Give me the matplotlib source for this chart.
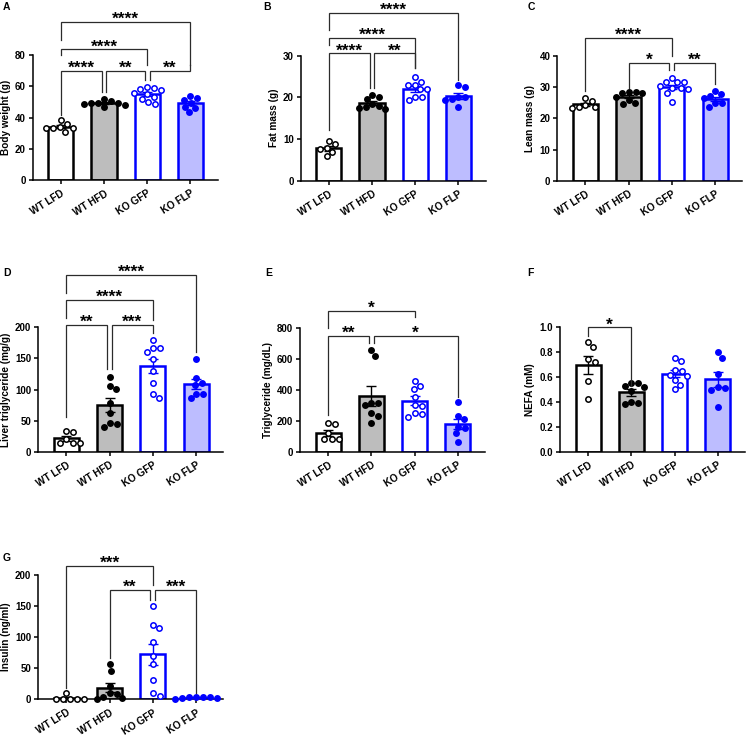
import numpy as np
import matplotlib
matplotlib.use('Agg')
import matplotlib.pyplot as plt

plt.rcParams['font.family'] = ['Liberation Sans', 'DejaVu Sans']
plt.rcParams['font.weight'] = 'bold'

# ---------------- data ----------------
groups = ['WT LFD', 'WT HFD', 'KO GFP', 'KO FLP']

body_weight = [
    [34, 36, 38.5, 30.5, 33, 33.5, 33.5],
    [48.5, 49.5, 50.5, 52, 46.5, 48, 49, 49.5],
    [59, 57.5, 58.5, 56, 59.5, 55, 53, 52, 50, 48.5],
    [54, 51.5, 52.5, 49.5, 47, 43.5, 46],
]
fat_mass = [
    [8.7, 9.5, 7.9, 7.6, 5.9, 6.9],
    [20, 19.5, 20.6, 17.2, 18.5, 17.8, 18, 17.5],
    [24.8, 23.8, 23, 23, 19.4, 20, 20.2, 21.9, 22],
    [23, 22.4, 20.2, 19.5, 17.6, 19.4, 20],
]
lean_mass = [
    [25.7, 26.6, 23.2, 23.7, 23.7, 24.3],
    [28.2, 28.6, 28.6, 28, 25.9, 27, 24.5, 25],
    [33, 31.6, 31.6, 31.6, 29.6, 29.3, 29.6, 25.3, 28.0, 30.5],
    [27.3, 28.9, 27.8, 26.4, 24.8, 23.7, 25],
]
liver_tg = [
    [32, 33, 20, 14.5, 14.5, 14.5],
    [120.5, 101, 105.5, 78, 62, 40, 46, 44.5],
    [179.6, 167.3, 166.2, 160.9, 148.5, 111, 87, 92.2, 130],
    [149, 118, 111, 107, 93, 86, 93],
]
serum_tg = [
    [176, 187, 118, 80, 82, 82],
    [656, 617, 316, 301, 316, 247, 232, 187],
    [456, 402, 426, 355, 295, 301, 226, 247, 241],
    [318, 211, 232, 150, 161, 118, 65],
]
nefa = [
    [0.84, 0.88, 0.72, 0.745, 0.565, 0.42],
    [0.555, 0.555, 0.528, 0.52, 0.49, 0.385, 0.40, 0.39],
    [0.75, 0.73, 0.66, 0.65, 0.61, 0.575, 0.54, 0.505, 0.62],
    [0.80, 0.755, 0.625, 0.51, 0.52, 0.495, 0.36],
]
insulin = [
    [10.7, 0.5, 0.8, 0.5, 0.3, 0.5],
    [57, 46, 22, 9.5, 8.5, 1, 4, 2],
    [150, 114, 119.5, 92, 70, 57, 31, 6, 10],
    [3.5, 3.5, 3, 3, 2.5, 2, 1],
]

# significance brackets: (group i, group j, bracket level, stars, leg end i, leg end j)
brackets_a = [(0, 1, 69.8, '****', 41.6, 56.5), (1, 2, 69.8, '**', 56.5, 64),
              (2, 3, 69.8, '**', 64, 73.6), (0, 2, 83.6, '****', 80, 73.6),
              (0, 3, 101.3, '****', 89.6, 73.6)]
brackets_b = [(0, 1, 30.6, '****', 12.2, 22.2), (1, 2, 30.6, '**', 22.2, 27),
              (0, 2, 34.3, '****', 32.6, 27), (0, 3, 40.3, '****', 36.2, 24.2)]
brackets_c = [(1, 2, 37.9, '*', 29.6, 35.5), (2, 3, 37.9, '**', 35.5, 30.9),
              (0, 2, 45.9, '****', 28.9, 40)]
brackets_d = [(0, 1, 203.8, '**', 56.3, 132.4), (1, 2, 203.8, '***', 132.4, 190.3),
              (0, 2, 244, '****', 214.5, 211.8), (0, 3, 284, '****', 254.7, 160.9)]
brackets_e = [(0, 1, 746, '**', 236.6, 699), (1, 3, 746, '*', 699, 355),
              (0, 2, 909.7, '*', 795.7, 871)]
brackets_f = [(0, 1, 1.0, '*', 0.93, 0.527)]
brackets_g = [(1, 2, 175.9, '**', 66, 159.8), (2, 3, 175.9, '***', 159.8, 9.7),
              (0, 2, 214.5, '***', 17.7, 184)]

# ---------------- styles ----------------
W, H = 748, 736
BLUE = '#0000FF'
bar_face = ['white', '#BDBDBD', 'white', '#BDBDFF']
bar_edge = ['black', 'black', BLUE, BLUE]
pt_face = ['white', 'black', 'white', BLUE]
pt_edge = ['black', 'black', BLUE, BLUE]

XL = (-0.65, 3.63)
AX_W = 185.0

panels = [
    # letter, data, brackets, ylabel, ymax, yticks, fmt, (left, y0, ytop) px, letter pos px
    ('A', body_weight, brackets_a, 'Body weight (g)', 80, [0, 20, 40, 60, 80], '%d', (32.7, 180, 55), (3, 10)),
    ('B', fat_mass, brackets_b, 'Fat mass (g)', 30, [0, 10, 20, 30], '%d', (300.7, 180.7, 55.7), (263, 10)),
    ('C', lean_mass, brackets_c, 'Lean mass (g)', 40, [0, 10, 20, 30, 40], '%d', (557.3, 180.7, 56), (528, 10)),
    ('D', liver_tg, brackets_d, 'Liver triglyceride (mg/g)', 200, [0, 50, 100, 150, 200], '%d', (38.3, 451.7, 327.3), (3, 276)),
    ('E', serum_tg, brackets_e, 'Triglyceride (mg/dL)', 800, [0, 200, 400, 600, 800], '%d', (300, 451.7, 327.7), (265, 276)),
    ('F', nefa, brackets_f, 'NEFA (mM)', 1.0, [0, 0.2, 0.4, 0.6, 0.8, 1.0], '%.1f', (560, 451.7, 327.3), (527, 276)),
    ('G', insulin, brackets_g, 'Insulin (ng/ml)', 200, [0, 50, 100, 150, 200], '%d', (38.3, 699.3, 575), (3, 561)),
]


def swarm_offsets(vals, ypp, xpp, d=7.0):
    ys = np.asarray(vals, float) * ypp
    order = np.argsort(-ys, kind='stable')
    cands = [0.0]
    for k in range(1, 200):
        cands += [k * 0.25, -k * 0.25]
    px, py = [], []
    xs = np.zeros(len(ys))
    for idx in order:
        for c in cands:
            if all((c - a) ** 2 + (ys[idx] - b) ** 2 >= d * d for a, b in zip(px, py)):
                xs[idx] = c
                break
        px.append(xs[idx])
        py.append(ys[idx])
    return xs / xpp


fig = plt.figure(figsize=(W / 100, H / 100), dpi=100)

for letter, data, brackets, ylabel, ymax, yticks, fmt, (left, y0, ytop), (lx, ly) in panels:
    ax = fig.add_axes([left / W, 1 - y0 / H, AX_W / W, (y0 - ytop) / H])
    xpp = AX_W / (XL[1] - XL[0])
    ypp = (y0 - ytop) / ymax
    x = np.arange(len(groups))
    means = [np.mean(v) for v in data]
    sems = [np.std(v, ddof=1) / np.sqrt(len(v)) for v in data]
    ax.bar(x, means, width=0.58, color=bar_face, edgecolor=bar_edge, linewidth=1.8, zorder=2)
    for i, v in enumerate(data):
        ax.errorbar(x[i], means[i], yerr=sems[i], fmt='none', ecolor=bar_edge[i],
                    elinewidth=1.0, capsize=3.8, capthick=1.0, zorder=3)
        offs = swarm_offsets(v, ypp, xpp)
        ax.scatter(x[i] + offs, v, s=15, facecolors=pt_face[i], edgecolors=pt_edge[i],
                   linewidths=1.1, zorder=4, clip_on=False)

    # brackets
    shift = 0.055
    for (i, j, lev, stars, li, lj) in brackets:
        xi, xj = float(i), float(j)
        for (a, b, lev2, *_r) in brackets:
            if (a, b) == (i, j) or abs(lev2 - lev) > 1e-9:
                continue
            if i in (a, b):
                xi += shift
            if j in (a, b):
                xj -= shift
        ax.plot([xi, xi, xj, xj], [li, lev, lev, lj], color='#2b2b2b', lw=0.9,
                clip_on=False, zorder=5, solid_joinstyle='miter')
        ax.annotate(stars, xy=((xi + xj) / 2, lev), xytext=(0, -1.5), textcoords='offset points',
                    ha='center', va='baseline', fontsize=12.5, fontweight='bold',
                    annotation_clip=False)

    ax.set_xlim(*XL)
    ax.set_ylim(0, ymax)
    ax.set_yticks(yticks)
    ax.set_yticklabels([fmt % t for t in yticks], fontsize=7, fontweight='bold')
    ax.set_xticks(x)
    ax.set_xticklabels(groups, rotation=32, ha='right', rotation_mode='anchor',
                       fontsize=7.2, fontweight='bold')
    ax.set_ylabel(ylabel, fontsize=7.2, fontweight='bold', labelpad=3)
    for s in ('top', 'right'):
        ax.spines[s].set_visible(False)
    for s in ('left', 'bottom'):
        ax.spines[s].set_linewidth(1.1)
    ax.tick_params(axis='both', length=3, width=1.1, pad=2)
    ax.tick_params(axis='x', pad=3)
    fig.text(lx / W, 1 - ly / H, letter, fontsize=7.5, fontweight='bold', ha='left', va='baseline')

fig.savefig('out.png', dpi=100)
